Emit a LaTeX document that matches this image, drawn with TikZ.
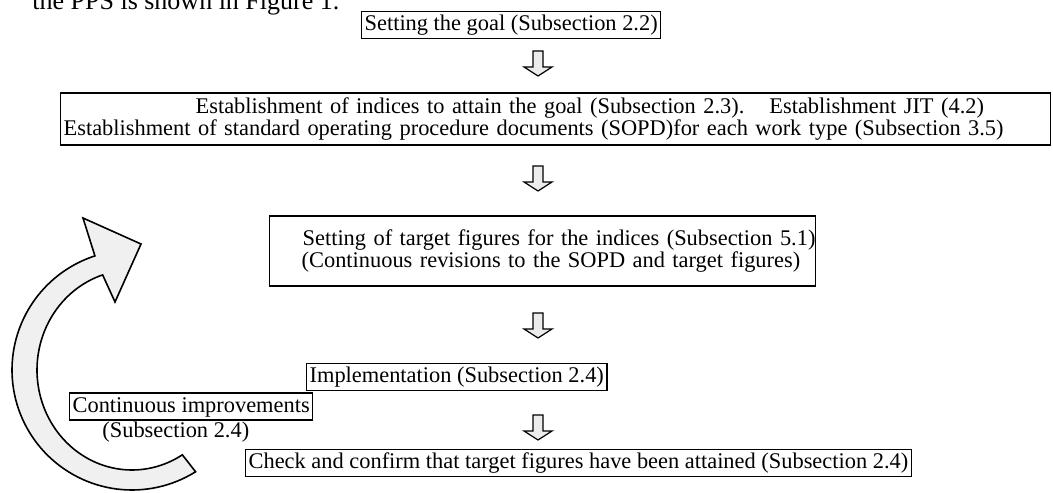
\documentclass[tikz,border=0pt]{standalone}
\usepackage{fontspec}
\setmainfont{Liberation Serif}
\begin{document}
\begin{tikzpicture}[x=0.5pt,y=-0.5pt,
  txt/.style={font=\fontsize{11.2}{11}\selectfont},
  box/.style={txt, draw, line width=0.65pt, inner xsep=1.5pt, inner ysep=1pt, text height=8.6pt, text depth=2.9pt},
  multibox/.style={txt, draw, line width=0.65pt, inner xsep=0pt, inner ysep=0pt, align=left},
  arrowbody/.style={draw, line width=0.6pt, fill=gray!15, line join=miter},
  bigarrow/.style={draw, line width=0.8pt, fill=gray!12, line join=miter},
  dnarrow/.pic={\path[arrowbody] (-5,0) -- (5,0) -- (5,16) -- (14,16) -- (0,25) -- (-14,16) -- (-5,16) -- cycle;}
]
\useasboundingbox (0,0) rectangle (1053,492);
\clip (0,0) rectangle (1053,492);
\fill[white] (0,0) rectangle (1053,492);

\node[anchor=base west, inner sep=0, font=\fontsize{13}{15}\selectfont] (intro) at (32,10) {the PPS is shown in Figure 1.};

\node[box, anchor=west] (goal) at (361,25) {Setting the goal (Subsection 2.2)};

\node[multibox, anchor=west, text width=495pt, minimum height=26pt] (indices) at (60,119)
 {\hspace*{67.5pt}\mbox{Establishment of indices to attain the goal (Subsection 2.3).\hspace{12.5pt}Establishment JIT (4.2)}\\
  \hspace*{1.5pt}\mbox{Establishment of standard operating procedure documents (SOPD)for each work type (Subsection 3.5)}};

\node[multibox, anchor=west, text width=273pt, minimum height=35pt] (target) at (269,251)
 {\hspace*{16.5pt}\mbox{Setting of target figures for the indices (Subsection 5.1)}\\
  \hspace*{16pt}\mbox{(Continuous revisions to the SOPD and target figures)}};

\node[box, anchor=west] (impl) at (306,377) {Implementation (Subsection 2.4)};
\node[box, anchor=west] (cont) at (69,406.5) {Continuous improvements};
\node[txt, anchor=west, inner sep=0] (contsub) at (102,432) {(Subsection 2.4)};
\node[box, anchor=west] (check) at (245,463) {Check and confirm that target figures have been attained (Subsection 2.4)};

\pic at (538,51) {dnarrow};
\pic at (538,166) {dnarrow};
\pic at (538,313) {dnarrow};
\pic at (538,415) {dnarrow};

\path[bigarrow] plot[domain=58:252, samples=80] ({132+120*cos(\x)},{370+120*sin(\x)})
  -- (83,218) -- (141,244) -- (115,302)
  -- plot[domain=58:252, samples=80] ({132+95*cos(310-\x)},{370+100*sin(310-\x)}) -- cycle;
\end{tikzpicture}
\end{document}
